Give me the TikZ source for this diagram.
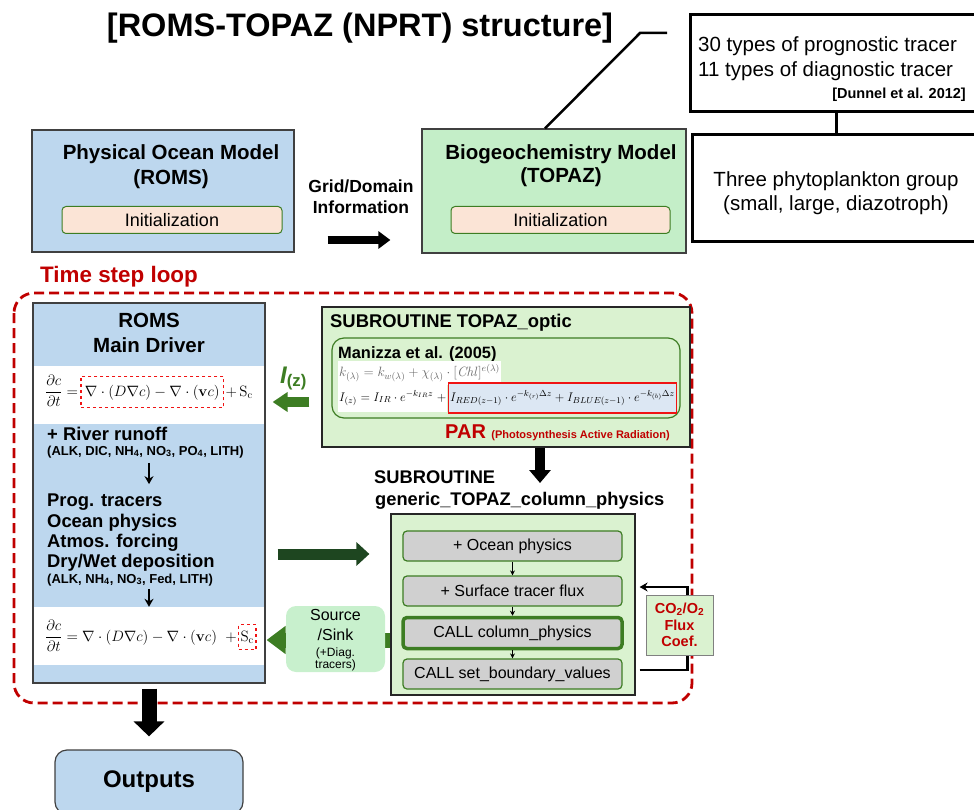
\documentclass[tikz,border=0pt]{standalone}
\usepackage{fix-cm}
\usepackage[no-math]{fontspec}
\setmainfont{Liberation Sans}
\usepackage{amsmath, amssymb}
\usepackage{xcolor}
\usetikzlibrary{arrows.meta, calc, positioning}
\definecolor{romsblue}{RGB}{189,215,238}
\definecolor{topazgreen}{RGB}{196,238,200}
\definecolor{opticgreen}{RGB}{218,242,208}
\definecolor{sinkgreen}{RGB}{200,240,205}
\definecolor{peach}{RGB}{251,228,214}
\definecolor{loopred}{RGB}{192,0,0}
\definecolor{eqred}{RGB}{240,20,20}
\definecolor{leafgreen}{RGB}{61,125,35}
\definecolor{darkleaf}{RGB}{30,70,32}
\definecolor{stepgray}{RGB}{208,208,208}
\definecolor{parblue}{RGB}{220,231,243}
\definecolor{edgegray}{RGB}{64,64,64}
\newcommand{\fsz}[1]{\fontsize{#1}{#1}\selectfont}

\begin{document}
\begin{tikzpicture}[x=1pt, y=-1pt, >=Stealth,
    hdr/.style={anchor=base, inner sep=0pt, font=\fsz{20.5}\bfseries},
    txt/.style={anchor=base west, inner sep=0pt},
    box/.style={draw=edgegray, line width=1.2pt, inner sep=0pt},
    initbox/.style={draw=leafgreen, fill=peach, rounded corners=4pt, line width=1pt,
        minimum width=220pt, minimum height=27pt, font=\fsz{18}},
    stepbox/.style={draw=leafgreen, fill=stepgray, rounded corners=4pt, line width=1.2pt,
        minimum width=219pt, minimum height=30pt, font=\fsz{16}},
    notebox/.style={draw, line width=3pt, inner sep=0pt},
    eqbox/.style={draw=eqred, dashed, line width=1.3pt, font=\fsz{15}},
    fat/.style n args={3}{line width=#1, -{Triangle[length=#2, width=#3]}},
  ]
  \useasboundingbox (0,0) rectangle (974,810);

  % Title
  \node[anchor=base, inner sep=0pt, font=\fsz{32.5}\bfseries] (title) at (360,37) {[ROMS-TOPAZ (NPRT) structure]};

  % Time step loop frame
  \draw[loopred, line width=2.8pt, dash pattern=on 10pt off 5pt, rounded corners=20pt] (14,293) rectangle (692,703);
  \node[txt, font=\fsz{22.4}\bfseries, text=loopred] (looptitle) at (40,283) {Time step loop};

  % Physical ocean model
  \node[box, fill=romsblue, minimum width=262pt, minimum height=122pt] (phys) at (163,191) {};
  \node[hdr] (physname) at (171,160) {Physical Ocean Model};
  \node[hdr] (physsub) at (171,184.5) {(ROMS)};
  \node[initbox] (physinit) at (172,220) {Initialization};

  % Grid / domain hand-over
  \node[anchor=base, inner sep=0pt, font=\fsz{17.5}\bfseries] (grid) at (361,193) {Grid/Domain};
  \node[anchor=base, inner sep=0pt, font=\fsz{17.5}\bfseries] (info) at (361,214) {Information};

  % Biogeochemistry model
  \node[box, fill=topazgreen, minimum width=264pt, minimum height=124pt] (bio) at (554,191) {};
  \node[hdr] (bioname) at (561,160) {Biogeochemistry Model};
  \node[hdr] (biosub) at (561,183) {(TOPAZ)};
  \node[initbox, minimum width=219pt] (bioinit) at (560.5,220) {Initialization};
  \draw[fat={8pt}{12pt}{17pt}, shorten <=33pt, shorten >=31pt] (phys.east |- 0,240) -- (bio.west |- 0,240);

  % Tracer notes
  \coordinate (elbow) at (640,33);
  \coordinate (tracertag) at (667,33);
  \draw[line width=2.5pt] ([xshift=-9pt]bio.north) -- (elbow) -- (tracertag);
  \node[notebox, minimum width=292pt, minimum height=97pt] (tracers) at (836,63.5) {};
  \node[txt, font=\fsz{20.5}] (prog) at (698,52) {30 types of prognostic tracer};
  \node[txt, font=\fsz{20.5}] (diag) at (698,77) {11 types of diagnostic tracer};
  \node[anchor=base east, inner sep=0pt, font=\fsz{14.5}\bfseries] (dunne) at (966,99) {[Dunnel et al. 2012]};
  \node[notebox, minimum width=288pt, minimum height=107pt] (phyto) at (836,188.5) {};
  \node[anchor=base, inner sep=0pt, font=\fsz{20.5}] (phytoname) at (836,187) {Three phytoplankton group};
  \node[anchor=base, inner sep=0pt, font=\fsz{20.5}] (phytosub) at (836,211) {(small, large, diazotroph)};
  \draw[line width=3pt] (tracers.south) -- (phyto.north);

  % ROMS main driver
  \node[box, fill=romsblue, minimum width=232pt, minimum height=380pt] (driver) at (149,493) {};
  \node[fill=white, inner sep=0pt, minimum width=230.8pt, minimum height=58pt] (band1) at (149,395) {};
  \node[fill=white, inner sep=0pt, minimum width=230.8pt, minimum height=58pt] (band2) at (149,636) {};
  \node[hdr] (drivername) at (149,327) {ROMS};
  \node[hdr] (driversub) at (149,352) {Main Driver};
  \node[anchor=base west, inner sep=0pt, font=\fsz{15}] (eqlhs) at (45,396) {$\displaystyle\frac{\partial c}{\partial t} =$};
  \node[eqbox, base right=2pt of eqlhs, inner xsep=4pt, inner ysep=8pt] (transport) {$\nabla\cdot(D\nabla c) - \nabla\cdot(\mathbf{v}c)$};
  \node[base right=1pt of transport, inner sep=0pt, font=\fsz{15}] (source) {$+\,\mathrm{S}_\mathrm{c}$};
  \node[txt, font=\fsz{18.4}\bfseries] (river) at (47,440) {+ River runoff};
  \node[txt, font=\fsz{13}\bfseries] (riverlist) at (47,455) {(ALK, DIC, NH\textsubscript{4}, NO\textsubscript{3}, PO\textsubscript{4}, LITH)};
  \node[txt, font=\fsz{18.4}\bfseries] (progtr) at (47,506) {Prog. tracers};
  \node[txt, font=\fsz{18.4}\bfseries] (ocphys) at (47,527) {Ocean physics};
  \node[txt, font=\fsz{18.4}\bfseries] (atmos) at (47,547) {Atmos. forcing};
  \node[txt, font=\fsz{18.4}\bfseries] (deposit) at (47,567) {Dry/Wet deposition};
  \node[txt, font=\fsz{13}\bfseries] (depolist) at (47,583) {(ALK, NH\textsubscript{4}, NO\textsubscript{3}, Fed, LITH)};
  \node[anchor=base west, inner sep=0pt, font=\fsz{15}] (eqfull) at (45,641) {$\displaystyle\frac{\partial c}{\partial t} = \nabla\cdot(D\nabla c) - \nabla\cdot(\mathbf{v}c)\;\;+$};
  \node[eqbox, base right=1pt of eqfull, inner xsep=2pt, inner ysep=6pt] (sourceterm) {$\mathrm{S}_\mathrm{c}$};
  \draw[-{Stealth[length=8pt,width=9pt]}, line width=2.2pt, shorten <=5pt, shorten >=9pt] (riverlist.south -| driver.center) -- (progtr.north -| driver.center);
  \draw[-{Stealth[length=8pt,width=9pt]}, line width=2.2pt, shorten <=3pt] (depolist.south -| driver.center) -- (band2.north);

  % Outputs
  \node[draw=edgegray, line width=1.2pt, fill=romsblue, rounded corners=12pt, minimum width=188pt, minimum height=64pt, font=\fsz{24}\bfseries] (outputs) at (149,782) {Outputs};
  \draw[fat={15pt}{15pt}{30pt}, shorten <=5pt, shorten >=13pt] (driver.south) -- (outputs.north);

  % TOPAZ optic
  \node[box, draw=black!85, fill=opticgreen, minimum width=368pt, minimum height=140pt] (optic) at (506,377) {};
  \node[txt, font=\fsz{18.4}\bfseries] (optictitle) at (330,327) {SUBROUTINE TOPAZ\_optic};
  \node[draw=leafgreen, line width=1.2pt, rounded corners=12pt, minimum width=348pt, minimum height=80pt] (manizza) at (506,378) {};
  \node[txt, font=\fsz{16.4}\bfseries] (manizzaref) at (338,358) {Manizza et al. (2005)};
  \node[anchor=west, fill=white, inner xsep=1pt, minimum height=20pt, font=\fsz{13.5}, text=gray!80!black] (keq) at (338,373) {$k_{(\lambda)} = k_{w(\lambda)} + \chi_{(\lambda)}\cdot[\mathit{Chl}]^{e(\lambda)}$};
  \node[anchor=west, fill=white, inner xsep=1pt, minimum height=28pt, font=\fsz{12.5}] (ieqa) at (338,398) {$I_{(z)} = I_{IR}\cdot e^{-k_{IR}z}\;+$};
  \node[base right=0pt of ieqa, fill=parblue, draw=eqred, line width=1.2pt, inner xsep=2pt, minimum height=30pt, font=\fsz{12.5}] (ieqb) {$I_{RED(z-1)}\cdot e^{-k_{(r)}\Delta z} + I_{BLUE(z-1)}\cdot e^{-k_{(b)}\Delta z}$};
  \node[txt, font=\fsz{20}\bfseries, text=loopred] (par) at (445,438) {PAR};
  \node[base right=5pt of par, inner sep=0pt, font=\fsz{11}\bfseries, text=loopred] (parname) {(Photosynthesis Active Radiation)};

  % Light to ROMS
  \node[txt, font=\fsz{24}\bfseries\itshape, text=leafgreen] (iz) at (280,383) {I\textsubscript{\upshape(z)}};
  \draw[fat={10pt}{15pt}{19pt}, leafgreen, shorten <=12pt, shorten >=7pt] (optic.west |- 0,402) -- (driver.east |- 0,402);

  % Column physics
  \coordinate (colentry) at (540,483);
  \draw[fat={10pt}{13pt}{21pt}] ([xshift=34pt]optic.south) -- (colentry);
  \node[txt, font=\fsz{18.3}\bfseries] (subname) at (374,483) {SUBROUTINE};
  \node[txt, font=\fsz{18.3}\bfseries] (subname2) at (375,505) {generic\_TOPAZ\_column\_physics};
  \node[box, draw=black!85, fill=opticgreen, minimum width=244pt, minimum height=181pt] (column) at (513,604.5) {};
  \node[stepbox] (oceanstep) at (512.5,546) {+ Ocean physics};
  \node[stepbox] (fluxstep) at (512.5,591) {+ Surface tracer flux};
  \node[stepbox, line width=3.5pt, minimum height=31pt] (colstep) at (512.5,633) {CALL column\_physics};
  \node[stepbox] (boundstep) at (512.5,674) {CALL set\_boundary\_values};
  \foreach \a/\b in {oceanstep/fluxstep, fluxstep/colstep, colstep/boundstep}
    \draw[-{Stealth[length=5pt,width=5pt]}, line width=1pt] (\a) -- (\b);

  % Exchange arrows
  \draw[fat={11pt}{13pt}{23pt}, darkleaf, shorten <=12pt, shorten >=21pt] (driver.east |- 0,554) -- (column.west |- 0,554);
  \draw[fat={15pt}{19pt}{27pt}, leafgreen, shorten >=1pt] (column.west |- 0,640) -- (driver.east |- 0,640);
  \node[fill=sinkgreen, rounded corners=10pt, minimum width=99pt, minimum height=66pt] (sink) at (335.5,639) {};
  \node[anchor=base, inner sep=0pt, font=\fsz{16}] (sinkl1) at (335.5,620) {Source};
  \node[anchor=base, inner sep=0pt, font=\fsz{16}] (sinkl2) at (335.5,640) {/Sink};
  \node[anchor=base, inner sep=0pt, font=\fsz{12}] (sinkl3) at (335.5,656) {(+Diag.};
  \node[anchor=base, inner sep=0pt, font=\fsz{12}] (sinkl4) at (335.5,668) {tracers)};

  % Air-sea flux feedback
  \draw[line width=2.5pt, -{Stealth[length=8pt,width=9pt]}] ($(column.east |- boundstep)+(4,-4)$) -- ++(48,0) |- ($(column.east |- fluxstep)+(4,-4)$);
  \node[draw=gray, line width=1pt, fill=opticgreen, minimum width=67pt, minimum height=60pt, align=center, font=\fontsize{14.5}{16.5}\selectfont\bfseries, text=loopred] (fluxcoef) at (679.5,625) {CO\textsubscript{2}/O\textsubscript{2}\\Flux\\Coef.};
\end{tikzpicture}
\end{document}
